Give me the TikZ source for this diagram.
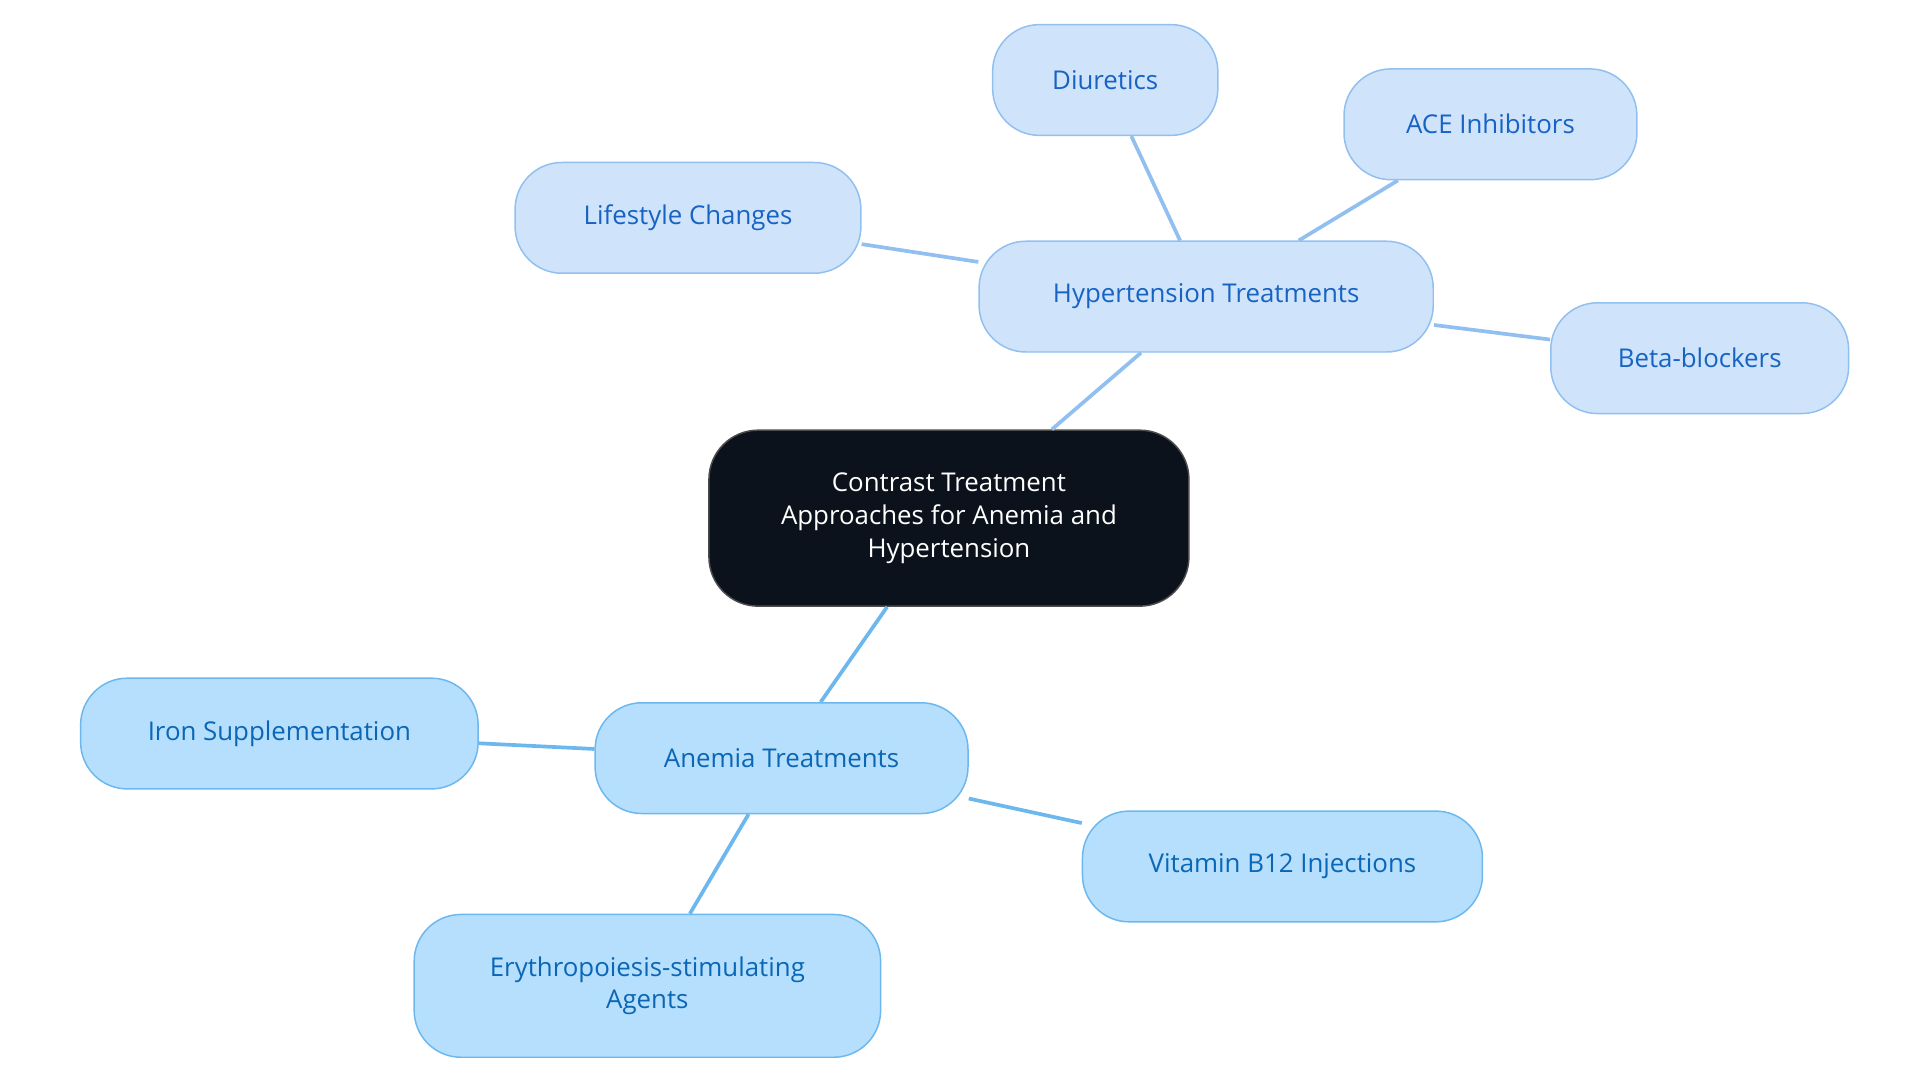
\documentclass[tikz,border=0pt]{standalone}
\usepackage{fontspec}
\setmainfont{Open Sans}
\begin{document}
\begin{tikzpicture}[x=1pt,y=-1pt,
 hnode/.style={draw=hs,fill=hf,text=ht,line width=1.2pt,rounded corners=38pt,inner sep=0pt,font=\fontsize{21}{25}\selectfont,align=center,minimum height=90pt},
 anode/.style={draw=as,fill=af,text=at,line width=1.2pt,rounded corners=38pt,inner sep=0pt,font=\fontsize{21}{25}\selectfont,align=center,minimum height=90pt},
 hl/.style={draw=hs,line width=3pt},
 al/.style={draw=as,line width=3pt}]
\definecolor{hs}{HTML}{90BFF0}\definecolor{hf}{HTML}{CFE3FB}\definecolor{ht}{HTML}{1763C4}
\definecolor{as}{HTML}{6CB8EE}\definecolor{af}{HTML}{B5DFFD}\definecolor{at}{HTML}{0B66B5}
\definecolor{cf}{HTML}{0C121C}
\useasboundingbox (0,0) rectangle (1560,880);
\node[draw=black!70,fill=cf,text=white,line width=1.2pt,rounded corners=40pt,minimum width=390pt,minimum height=143pt,align=center,font=\fontsize{21}{27}\selectfont] (c) at (771,421) {Contrast Treatment\\Approaches for Anemia and\\Hypertension};
\node[hnode,minimum width=369pt] (h) at (980,241) {Hypertension Treatments};
\node[hnode,minimum width=183pt] (d) at (898,65) {Diuretics};
\node[hnode,minimum width=238pt] (ace) at (1211,101) {ACE Inhibitors};
\node[hnode,minimum width=281pt] (l) at (559,177) {Lifestyle Changes};
\node[hnode,minimum width=242pt] (b) at (1381,291) {Beta-blockers};
\node[anode,minimum width=303pt] (a) at (635,616) {Anemia Treatments};
\node[anode,minimum width=323pt] (i) at (227,596) {Iron Supplementation};
\node[anode,minimum width=325pt] (v) at (1042,704) {Vitamin B12 Injections};
\node[anode,minimum width=379pt,minimum height=116pt,font=\fontsize{21}{26}\selectfont] (e) at (526,801) {Erythropoiesis-stimulating\\Agents};
\draw[hl] (c) -- (h);
\draw[hl] (h) -- (d);
\draw[hl] (h) -- (ace);
\draw[hl] (h) -- (l);
\draw[hl] (h) -- (b);
\draw[al] (c) -- (a);
\draw[al] (a) -- (i);
\draw[al] (a) -- (v);
\draw[al] (a) -- (e);
\end{tikzpicture}
\end{document}
